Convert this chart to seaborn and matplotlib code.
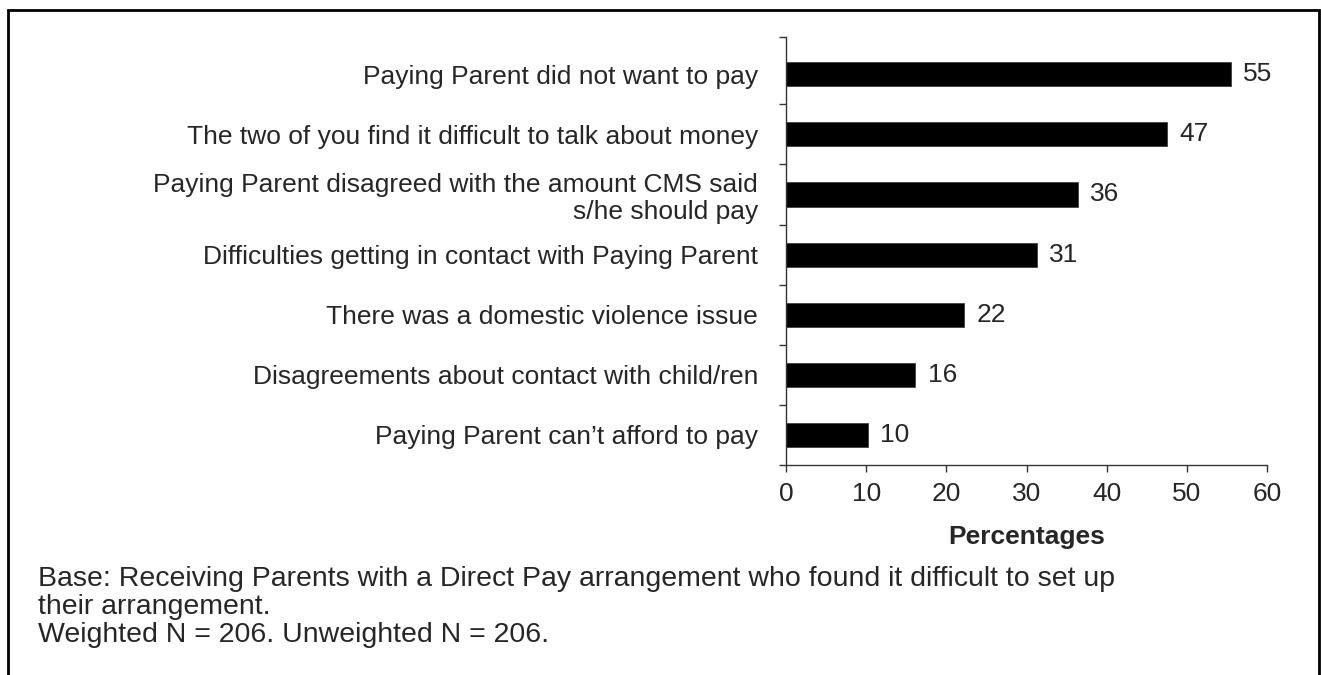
import matplotlib
matplotlib.use("Agg")
import matplotlib.pyplot as plt
import seaborn as sns
import pandas as pd
from matplotlib.patches import Rectangle

categories = [
    "Paying Parent did not want to pay",
    "The two of you find it difficult to talk about money",
    "Paying Parent disagreed with the amount CMS said\ns/he should pay",
    "Difficulties getting in contact with Paying Parent",
    "There was a domestic violence issue",
    "Disagreements about contact with child/ren",
    "Paying Parent can\u2019t afford to pay",
]
values = [55.5, 47.5, 36.4, 31.3, 22.2, 16.1, 10.2]
value_labels = [55, 47, 36, 31, 22, 16, 10]
x_ticks = [0, 10, 20, 30, 40, 50, 60]
x_label = "Percentages"
footnote = ("Base: Receiving Parents with a Direct Pay arrangement who found it difficult to set up\n"
            "their arrangement.\n"
            "Weighted N = 206. Unweighted N = 206.")

sns.set_style("white")
plt.rcParams['font.family'] = ['Liberation Sans', 'DejaVu Sans']
FS = 19
FS_NOTE = 20.5

df = pd.DataFrame({"category": categories, "value": values})

fig = plt.figure(figsize=(13.21, 6.75), dpi=100)
ax = fig.add_axes([786/1321, 1-465/675, 481/1321, 428/675])

sns.barplot(data=df, y="category", x="value", orient="h", color="black",
            width=0.4, saturation=1, ax=ax, edgecolor="#333333", linewidth=0.5)

ax.set_xlim(0, 60)
ax.set_ylim(6.5, -0.62)
ax.set_xticks(x_ticks)
ax.set_xticklabels([str(t) for t in x_ticks], fontsize=FS)
ax.set_yticks(range(len(categories)))
ax.set_yticklabels(categories, fontsize=FS, ha="right", linespacing=1.15)
ax.tick_params(axis="y", which="major", length=0, pad=20)
ax.set_yticks([-0.62, 0.5, 1.5, 2.5, 3.5, 4.5, 5.5, 6.5], minor=True)
ax.tick_params(axis="y", which="minor", length=5, width=1, color="#333333", direction="out", left=True)
ax.tick_params(axis="x", which="major", length=5, width=1, color="#333333", direction="out", bottom=True, pad=7)
ax.set_xlabel(x_label, fontsize=FS, fontweight="bold", labelpad=14)
ax.set_ylabel("")

for s in ["top", "right"]:
    ax.spines[s].set_visible(False)
for s in ["left", "bottom"]:
    ax.spines[s].set_color("#333333")
    ax.spines[s].set_linewidth(1)

for i, (v, lab) in enumerate(zip(values, value_labels)):
    ax.annotate(str(lab), xy=(v, i), xytext=(9, 0), textcoords="offset points",
                va="center", ha="left", fontsize=FS)

fig.text(38/1321, 1-566/675, footnote, fontsize=FS_NOTE, ha="left", va="top", linespacing=1.1)

fig.patches.append(Rectangle((8/1321, -0.05), 1311/1321, 1.05-10/675, transform=fig.transFigure,
                             fill=False, edgecolor="black", linewidth=2))

fig.savefig("out.png", dpi=100)
